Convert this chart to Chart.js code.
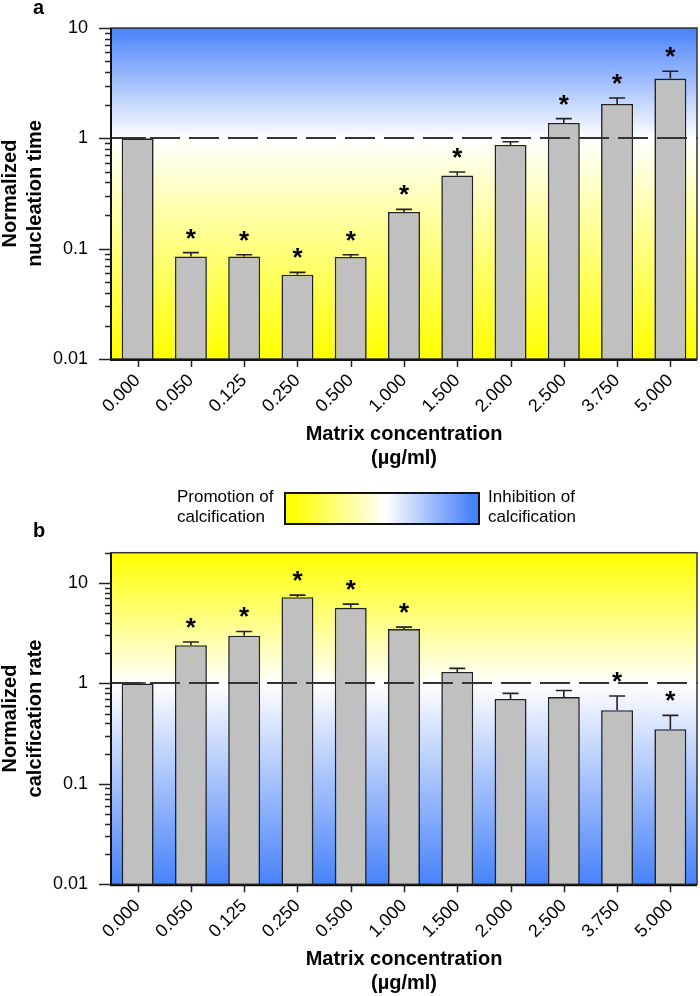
<!DOCTYPE html>
<html><head><meta charset="utf-8">
<script src="https://cdn.jsdelivr.net/npm/chart.js@4.4.1/dist/chart.umd.min.js"></script>
<style>
html,body{margin:0;padding:0;background:#fff;}
#wrap{position:relative;width:700px;height:996px;overflow:hidden;font-family:"Liberation Sans",Arial,sans-serif;color:#000;}
canvas{position:absolute;left:0;}
#ca{top:0;}
#cb{top:530px;}
.panel{position:absolute;font-weight:bold;font-size:20px;line-height:20px;}
.lg{position:absolute;font-size:17px;line-height:20px;white-space:nowrap;}
#lgbox{position:absolute;left:284px;top:492px;width:196px;height:33px;box-sizing:border-box;border:2px solid #111;
background:linear-gradient(to right,#ffff00 0%,#ffff00 3%,#ffffff 52%,#4882fa 97%,#4882fa 100%);}
</style></head>
<body>
<div id="wrap">
<canvas id="ca" width="700" height="470"></canvas>
<canvas id="cb" width="700" height="466"></canvas>
<div class="panel" style="left:33px;top:-3px;">a</div>
<div class="panel" style="left:33px;top:520px;">b</div>
<div class="lg" style="left:177px;top:487px;">Promotion of<br>calcification</div>
<div id="lgbox"></div>
<div class="lg" style="left:488px;top:487px;">Inhibition of<br>calcification</div>
</div>
<script>
// ---- data ----
const categories = ['0.000','0.050','0.125','0.250','0.500','1.000','1.500','2.000','2.500','3.750','5.000'];
const nucleationTime = [1.0, 0.085, 0.085, 0.058, 0.084, 0.215, 0.46, 0.87, 1.38, 2.05, 3.48];
const nucleationSem  = [0.01, 0.007, 0.003, 0.003, 0.004, 0.012, 0.035, 0.06, 0.13, 0.27, 0.57];
const nucleationSig  = [false, true, true, true, true, true, true, false, true, true, true];
const calcRate = [1.0, 2.40, 2.98, 7.22, 5.65, 3.47, 1.30, 0.70, 0.73, 0.54, 0.35];
const calcSem  = [0.01, 0.18, 0.31, 0.34, 0.50, 0.16, 0.11, 0.095, 0.12, 0.21, 0.13];
const calcSig  = [false, true, true, true, true, true, false, false, false, true, true];
const decadeLabels = {'-2':'0.01','-1':'0.1','0':'1','1':'10'};

Chart.defaults.font.family = "'Liberation Sans', Arial, sans-serif";
Chart.defaults.color = '#000';

const BLUE = '#4882fa', YEL = '#ffff00';

const bgPlugin = {
  id: 'bgGrad',
  beforeDraw(chart, args, opts) {
    const {ctx, chartArea: a, scales: {y}} = chart;
    const y1 = y.getPixelForValue(1);
    const s = Math.min(1, Math.max(0, (y1 - a.top) / (a.bottom - a.top)));
    const g = ctx.createLinearGradient(0, a.top, 0, a.bottom);
    g.addColorStop(0, opts.top); g.addColorStop(s, '#ffffff'); g.addColorStop(1, opts.bottom);
    ctx.save(); ctx.fillStyle = g; ctx.fillRect(a.left, a.top, a.right - a.left, a.bottom - a.top); ctx.restore();
  }
};

const overlayPlugin = {
  id: 'overlay',
  afterDatasetsDraw(chart, args, opts) {
    const {ctx, chartArea: a, scales: {x, y}} = chart;
    const meta = chart.getDatasetMeta(0);
    const vals = chart.data.datasets[0].data;
    ctx.save();
    // error bars
    ctx.strokeStyle = '#222'; ctx.lineWidth = 1.6;
    const tops = [];
    meta.data.forEach((bar, i) => {
      const yt = y.getPixelForValue(vals[i] + opts.sem[i]);
      tops.push(yt);
      ctx.beginPath();
      ctx.moveTo(bar.x, bar.y); ctx.lineTo(bar.x, yt);
      ctx.moveTo(bar.x - 8, yt); ctx.lineTo(bar.x + 8, yt);
      ctx.stroke();
    });
    // dashed reference line at 1
    const y1 = Math.round(y.getPixelForValue(1));
    ctx.strokeStyle = '#333'; ctx.lineWidth = 1.8; ctx.setLineDash([30, 9]);
    ctx.beginPath(); ctx.moveTo(a.left, y1); ctx.lineTo(a.right, y1); ctx.stroke();
    ctx.setLineDash([]);
    // asterisks
    ctx.fillStyle = '#000'; ctx.font = "bold 26px 'Liberation Sans', Arial, sans-serif";
    ctx.textAlign = 'center'; ctx.textBaseline = 'alphabetic';
    const m = ctx.measureText('*');
    meta.data.forEach((bar, i) => {
      if (!opts.sig[i]) return;
      const cy = tops[i] - 19;
      const base = cy - (m.actualBoundingBoxDescent - m.actualBoundingBoxAscent) / 2;
      ctx.fillText('*', bar.x, base);
    });
    // frame
    ctx.strokeStyle = '#333'; ctx.lineWidth = 1.5;
    ctx.strokeRect(a.left, a.top, a.right - a.left, a.bottom - a.top);
    ctx.strokeStyle = '#111'; ctx.lineWidth = 2;
    ctx.beginPath(); ctx.moveTo(a.left, a.top); ctx.lineTo(a.left, a.bottom + 1); ctx.lineTo(a.right, a.bottom + 1); ctx.stroke();
    // y ticks (major + minor)
    ctx.lineWidth = 1.5; ctx.strokeStyle = '#222';
    const lo = Math.floor(Math.log10(y.min)), hi = Math.ceil(Math.log10(y.max));
    for (let e = lo; e <= hi; e++) {
      for (let k = 1; k <= 9; k++) {
        const v = k * Math.pow(10, e);
        if (v < y.min * 0.999 || v > y.max * 1.001) continue;
        const py = Math.round(y.getPixelForValue(v)) + 0.5;
        const len = k === 1 ? 12 : 6;
        ctx.beginPath(); ctx.moveTo(a.left - len, py); ctx.lineTo(a.left, py); ctx.stroke();
      }
    }
    // x ticks
    categories.forEach((c, i) => {
      const px = Math.round(x.getPixelForValue(i)) + 0.5;
      ctx.beginPath(); ctx.moveTo(px, a.bottom + 1); ctx.lineTo(px, a.bottom + 8); ctx.stroke();
    });
    ctx.restore();
  }
};

function makeChart(id, values, sem, sig, ymax, ytitle, padTop, padBottom, xHeight, bgTop, bgBottom) {
  return new Chart(document.getElementById(id), {
    type: 'bar',
    data: {
      labels: categories,
      datasets: [{
        data: values,
        backgroundColor: '#c0c0c0',
        borderColor: '#222',
        borderWidth: 1.6,
        barPercentage: 0.6,
        categoryPercentage: 1.0
      }]
    },
    options: {
      responsive: false,
      animation: false,
      events: [],
      layout: { padding: { left: 0, right: 3, top: padTop, bottom: padBottom } },
      plugins: {
        legend: { display: false },
        tooltip: { enabled: false },
        bgGrad: { top: bgTop, bottom: bgBottom },
        overlay: { sem: sem, sig: sig }
      },
      scales: {
        x: {
          type: 'category',
          offset: true,
          grid: { display: true, drawOnChartArea: false, drawTicks: true, tickLength: 8, color: 'transparent', offset: false },
          border: { display: false },
          ticks: { autoSkip: false, maxRotation: 45, minRotation: 45, font: { size: 18 }, color: '#000', padding: 3 },
          title: { display: true, text: ['Matrix concentration', '(µg/ml)'], font: { size: 20, weight: 'bold', lineHeight: 1.2 }, color: '#000', padding: { top: 0, bottom: 0 } },
          afterFit(s) { s.height = xHeight; }
        },
        y: {
          type: 'logarithmic',
          min: 0.01,
          max: ymax,
          grid: { display: true, drawOnChartArea: false, drawTicks: true, tickLength: 12, color: 'transparent' },
          border: { display: false },
          ticks: {
            autoSkip: false,
            font: { size: 18 },
            color: '#000',
            padding: 11,
            callback(v) {
              const e = Math.log10(v);
              const r = Math.round(e);
              if (Math.abs(e - r) < 1e-6 && decadeLabels[r] !== undefined) return decadeLabels[r];
              return '';
            }
          },
          title: { display: true, text: ytitle, font: { size: 20, weight: 'bold', lineHeight: '25px' }, color: '#000', padding: { top: -2, bottom: 0 } },
          afterFit(s) { s.width = 111; s.paddingTop = 0; s.paddingBottom = 0; }
        }
      }
    },
    plugins: [bgPlugin, overlayPlugin]
  });
}

makeChart('ca', nucleationTime, nucleationSem, nucleationSig, 10, ['Normalized', 'nucleation time'], 28, 0, 111, BLUE, YEL);
makeChart('cb', calcRate, calcSem, calcSig, 20, ['Normalized', 'calcification rate'], 22.7, 1, 110.7, YEL, BLUE);
</script>
</body></html>
